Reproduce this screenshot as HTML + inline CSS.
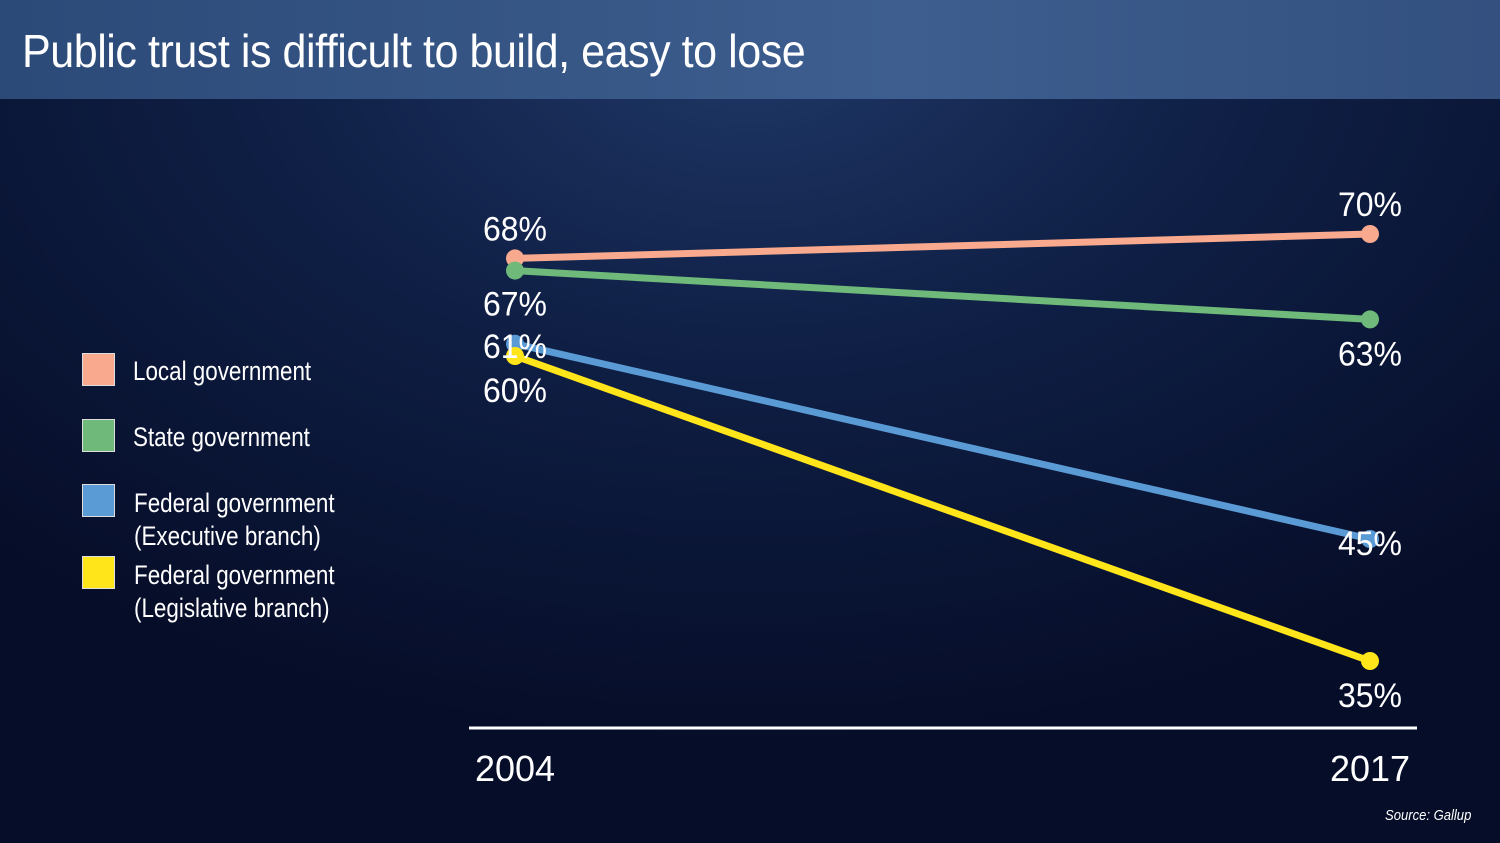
<!DOCTYPE html>
<html><head><meta charset="utf-8"><style>
html,body{margin:0;padding:0}
body{width:1500px;height:843px;overflow:hidden;position:relative;font-family:"Liberation Sans Narrow","Liberation Sans",sans-serif;color:#fff;
background:radial-gradient(ellipse 1100px 700px at 50% 5%,#1f3766 0%,#0f1f45 45%,#060d28 100%);}
#hdr{position:absolute;left:0;top:0;width:1500px;height:99px;background:linear-gradient(90deg,#2c4a78,#3d5e8f 60%,#33507f);}
#hdr h1{margin:0;position:absolute;left:22px;top:24px;font-size:46px;font-weight:normal;letter-spacing:-0.5px;transform:scaleX(0.936);transform-origin:left top;white-space:nowrap}
.leg{position:absolute;font-size:27px;line-height:33px;transform:scaleX(0.83);transform-origin:left top;white-space:nowrap}
.sw{position:absolute;width:33px;height:33px;border:1px solid #ddd;box-sizing:border-box}
svg{position:absolute;left:0;top:0}
</style></head><body>
<div id="hdr"><h1>Public trust is difficult to build, easy to lose</h1></div>
<div class="sw" style="left:82px;top:353px;background:#f9a98d"></div>
<div class="leg" style="left:133px;top:355px">Local government</div>
<div class="sw" style="left:82px;top:419px;background:#6fb97a"></div>
<div class="leg" style="left:133px;top:421px">State government</div>
<div class="sw" style="left:82px;top:484px;background:#5b9bd5"></div>
<div class="leg" style="left:134px;top:487px">Federal government<br>(Executive branch)</div>
<div class="sw" style="left:82px;top:556px;background:#ffe51a"></div>
<div class="leg" style="left:134px;top:559px">Federal government<br>(Legislative branch)</div>
<div style="position:absolute;left:1385px;top:807px;font-size:15px;font-style:italic;transform:scaleX(0.87);transform-origin:left top;white-space:nowrap">Source: Gallup</div>
<svg id="chart" width="1500" height="843"></svg>
<script>
const years=["2004","2017"];
const local=[68,70];
const state=[67,63];
const executive=[61,45];
const legislative=[60,35];
const series=[{n:"local",v:local,c:"#f9a98d"},{n:"state",v:state,c:"#6fb97a"},{n:"executive",v:executive,c:"#5b9bd5"},{n:"legislative",v:legislative,c:"#ffe51a"}];
const ns="http://www.w3.org/2000/svg",svg=document.getElementById('chart');
const x=i=>515+i*(1370-515)/(years.length-1);
const y=v=>234+(70-v)*12.2;
function mk(t,a){const e=document.createElementNS(ns,t);for(const k in a)e.setAttribute(k,a[k]);svg.appendChild(e);return e;}
const ax=mk('line',{x1:469,x2:1417,y1:728,y2:728,stroke:'#fff','stroke-width':3});


years.forEach((yr,i)=>{const t=mk('text',{x:x(i),y:781,'text-anchor':'middle','font-size':36,fill:'#fff'});t.textContent=yr;

});
series.forEach(s=>{const l=mk('line',{x1:x(0),y1:y(s.v[0]),x2:x(1),y2:y(s.v[1]),stroke:s.c,'stroke-width':7});


s.v.forEach((v,i)=>{const c=mk('circle',{cx:x(i),cy:y(v),r:9,fill:s.c});

});});
const offs={local:[-18,-18],state:[45,46],executive:[14,16],legislative:[46,46]};
series.forEach(s=>{s.v.forEach((v,i)=>{const dy=offs[s.n][i];
const t=mk('text',{x:x(i),y:y(v)+dy,'text-anchor':'middle','font-size':34,fill:'#fff',textLength:64,lengthAdjust:'spacingAndGlyphs'});t.textContent=v+'%';

});});
</script>
</body></html>
